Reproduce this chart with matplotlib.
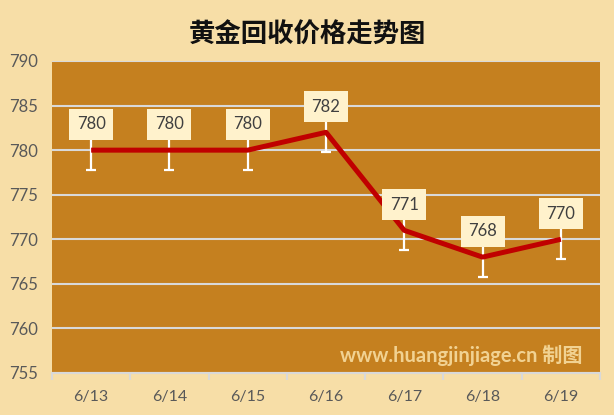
import matplotlib
matplotlib.use("Agg")
import matplotlib.pyplot as plt
import numpy as np

plt.rcParams['font.family'] = ['Lato', 'Noto Sans CJK SC', 'DejaVu Sans']

# data
dates = ['6/13', '6/14', '6/15', '6/16', '6/17', '6/18', '6/19']
prices = [780, 780, 780, 782, 771, 768, 770]
err = [2.2, 2.2, 2.2, 2.2, 2.2, 2.2, 2.2]
yticks = [755, 760, 765, 770, 775, 780, 785, 790]

fig = plt.figure(figsize=(6.14, 4.15), dpi=100, facecolor='#F7DEA7')
ax = fig.add_axes([52 / 614, 42 / 415, 548 / 614, 312 / 415])
ax.set_facecolor('#C5801F')

x = np.arange(len(dates))
ax.errorbar(x, prices, yerr=err, fmt='none', ecolor='white', elinewidth=1.6,
            capsize=3.5, capthick=1.6, zorder=3)
ax.plot(x, prices, color='#C00000', lw=3.6, zorder=4, solid_capstyle='butt')

for xi, p in zip(x, prices):
    ax.annotate(str(p), (xi, p), xytext=(0, 18.5), textcoords='offset points',
                ha='center', va='center', fontsize=12, color='#404040',
                bbox=dict(boxstyle='square,pad=0.45', fc='#FFF2CC', ec='none'),
                zorder=5)

ax.set_xlim(-0.5, len(dates) - 0.5)
ax.set_ylim(755, 790)
ax.set_yticks(yticks)
ax.yaxis.grid(True, color='#D9D9D9', lw=1.5, zorder=1)
ax.set_axisbelow(True)
ax.tick_params(axis='y', length=0, labelsize=12, labelcolor='#595959', pad=10)

ax.set_xticks(x)
ax.set_xticklabels(dates)
ax.set_xticks(np.arange(-0.5, len(dates), 1), minor=True)
ax.tick_params(axis='x', which='major', length=0, labelsize=11.5,
               labelcolor='#595959', pad=12)
ax.tick_params(axis='x', which='minor', length=5, width=1.5, color='#D9D9D9')

for s in ['left', 'right', 'top']:
    ax.spines[s].set_visible(False)
ax.spines['bottom'].set_color('#D9D9D9')
ax.spines['bottom'].set_linewidth(1.5)

fig.text(0.5, 0.915, '黄金回收价格走势图', ha='center', va='center',
         fontsize=19, fontweight='bold', color='#111111',
         family=['Noto Sans CJK SC'])

ax.text(0.968, 0.055, 'www.huangjinjiage.cn 制图', transform=ax.transAxes,
        ha='right', va='center', fontsize=14.5, fontweight='bold',
        color='#F7DCA0', alpha=0.9, zorder=6)

fig.savefig('out.png', dpi=100, facecolor=fig.get_facecolor())
